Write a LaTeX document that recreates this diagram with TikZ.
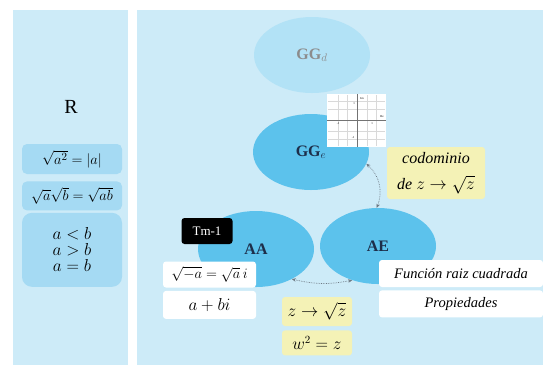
\documentclass[tikz,border=0pt]{standalone}
\usepackage{fontspec}
\setmainfont{Liberation Serif}
\usepackage{amsmath}
\usetikzlibrary{shapes.geometric, arrows.meta, positioning}
\definecolor{panelbg}{HTML}{CDEBF8}
\definecolor{propfill}{HTML}{A5DAF3}
\definecolor{paleblob}{HTML}{B2E2F6}
\definecolor{blob}{HTML}{5CC2EC}
\definecolor{notefill}{HTML}{F4F2B6}
\definecolor{navy}{HTML}{1D2E4A}
\definecolor{linkgray}{HTML}{6E7A84}
\tikzset{
    panel/.style={
        fill=panelbg, draw=none
    },
    propbox/.style={
        rectangle, rounded corners=5pt, fill=propfill, draw=none, inner sep=2pt,
        minimum width=100pt, text centered, font=\fontsize{15.5}{18}\selectfont
    },
    blobnode/.style={
        ellipse, minimum width=116pt, minimum height=76pt, inner sep=0pt,
        fill=blob, draw=none, text=navy, font=\fontsize{16}{18}\selectfont\bfseries
    },
    mathbox/.style={
        rectangle, rounded corners=3pt, fill=white, draw=none, inner sep=2pt,
        minimum width=93pt, minimum height=26pt, text centered,
        font=\fontsize{15}{18}\selectfont
    },
    textbox/.style={
        rectangle, rounded corners=3pt, fill=white, draw=none,
        minimum width=164pt, minimum height=27pt, text centered,
        font=\fontsize{14.5}{17}\selectfont\itshape
    },
    notebox/.style={
        rectangle, rounded corners=3pt, fill=notefill, draw=none,
        text centered, font=\fontsize{16}{19}\selectfont
    },
    tagbox/.style={
        rectangle, rounded corners=3pt, fill=black, text=white,
        minimum width=51pt, minimum height=26pt, font=\fontsize{13}{15}\selectfont
    },
    link/.style={
        {Stealth[length=4pt,width=3.5pt]}-{Stealth[length=4pt,width=3.5pt]},
        densely dotted, line width=0.7pt, draw=linkgray
    },
    gridline/.style={
        draw=black!15, line width=0.3pt
    }
}

\begin{document}
\begin{tikzpicture}[x=1pt, y=-1pt]
    \useasboundingbox[fill=white] (0,0) rectangle (548,365);

    \fill[panel] (13,10) rectangle (128,365);
    \fill[panel] (137,10) rectangle (543,365);

    \node[font=\fontsize{20}{22}\selectfont] (real) at (71,107) {R};
    \node[propbox, minimum height=30pt] (absrule) at (72,159) {$\sqrt{a^2} = |a|$};
    \node[propbox, minimum height=29pt, below=7pt of absrule] (prodrule) {$\sqrt{a}\sqrt{b} = \sqrt{ab}$};
    \node[propbox, rounded corners=10pt, minimum height=74pt, align=center,
          below=2pt of prodrule, font=\fontsize{16}{16}\selectfont] (order)
        {$a < b$\\ $a > b$\\ $a = b$};

    \node[blobnode, fill=paleblob, text=black!45] (ggd) at (312,55) {GG$_d$};
    \node[blobnode] (gge) at (311,152) {\raisebox{-5pt}{GG$_e$}};
    \node[blobnode] (aa)  at (256,249) {AA};
    \node[blobnode] (ae)  at (378,246) {AE};

    \node[fill=white, minimum width=59pt, minimum height=53pt, inner sep=0pt] (plane) at (356.5,120.5) {};
    \foreach \gy in {101,109,131,139}
        \draw[gridline] (328,\gy) -- (385,\gy);
    \foreach \gx in {338,347,367,376}
        \draw[gridline] (\gx,95) -- (\gx,146);
    \draw[black!55, line width=0.5pt] (357,94) -- (357,147);
    \draw[black!55, line width=0.5pt] (327,120) -- (386,120);
    \begin{scope}[font=\fontsize{3}{3}\selectfont, inner sep=0pt]
        \node (imlbl) at (362,99)  {Im};
        \node (relbl) at (382,117) {Re};
        \node (uplbl) at (354,104) {1};
        \node (dnlbl) at (353,138) {-1};
        \node (lflbl) at (338,124) {-1};
        \node (rtlbl) at (372,124) {1};
    \end{scope}

    \node[tagbox] (tm) at (207,231) {Tm-1};
    \node[mathbox] (negroot) at (209.5,274.5) {$\sqrt{-a} = \sqrt{a}\,i$};
    \node[mathbox, minimum height=28pt, below=3pt of negroot, font=\fontsize{18}{20}\selectfont] (cform) {$a + bi$};

    \node[textbox] (rootfn) at (461,273.5) {Función raiz cuadrada};
    \node[textbox, below=3pt of rootfn] (props) {Propiedades};

    \node[notebox, minimum width=98pt, minimum height=52pt, align=center, inner sep=2pt] (codom) at (436,173)
        {\textit{codominio}\\[7pt] \textit{de} $z \to \sqrt{z}$};
    \node[notebox, minimum width=70pt, minimum height=29pt] (zmap) at (317,311.5) {$z \to \sqrt{z}$};
    \node[notebox, minimum width=70pt, minimum height=25pt, below=4pt of zmap] (wsq) {$w^2 = z$};

    \draw[link] (gge.-12) to[bend left=35] (ae.92);
    \draw[link] (aa.-40) to[bend right=12] (ae.-127);

\end{tikzpicture}
\end{document}
